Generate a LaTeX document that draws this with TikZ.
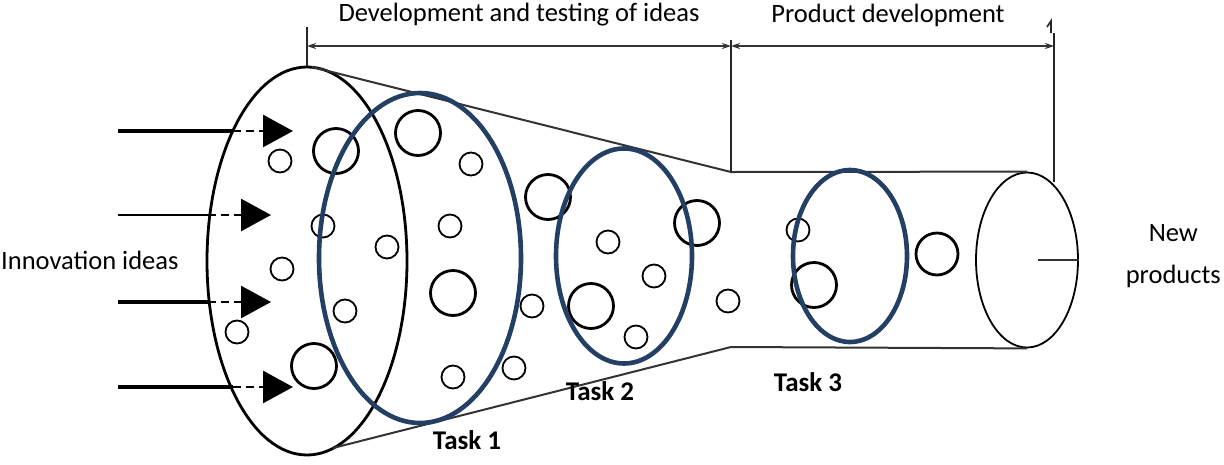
\documentclass[tikz,border=0pt]{standalone}
\usepackage{fontspec}
\setmainfont{Carlito}
\usetikzlibrary{arrows.meta,shapes.geometric}
\definecolor{navy}{HTML}{233F64}
\tikzset{
  lbl/.style={font=\fontsize{26.5}{42}\selectfont, inner sep=0pt},
  tasklbl/.style={font=\fontsize{27}{30}\selectfont\bfseries, inner sep=0pt},
  sc/.style={circle, draw=black, line width=1.8pt, minimum size=23pt, inner sep=0pt},
  bc/.style={circle, draw=black, line width=2.8pt, minimum size=45pt, inner sep=0pt},
  task/.style={ellipse, draw=navy, line width=4.6pt, inner sep=0pt},
  body/.style={ellipse, draw=black, inner sep=0pt},
  funnel/.style={draw=black!80, line width=2pt},
  dim/.style={draw=black!80, line width=1.8pt, {Stealth[length=9pt,width=6pt]}-{Stealth[length=9pt,width=6pt]}},
  feed/.style={line width=3.2pt},
  feedthin/.style={line width=1.5pt},
  dashtip/.style={line width=2.8pt, dash pattern=on 8pt off 5pt, -{Triangle[length=30pt,width=32pt]}},
}
\begin{document}
\begin{tikzpicture}[x=1pt,y=-1pt]
\useasboundingbox (0,0) rectangle (1224,464);
% funnel body
\node[body, line width=2.8pt, minimum width=200pt, minimum height=388pt] (mouth) at (307,261) {};
\node[body, line width=1.8pt, minimum width=102pt, minimum height=175pt] (outlet) at (1027,260) {};
\coordinate (neckT) at (731,172);
\coordinate (neckB) at (731,347);
\coordinate (topL) at (312,67);
\coordinate (botL) at (333,448);
\draw[funnel] (topL) -- (neckT) -- (outlet.north);
\draw[funnel] (botL) -- (neckB) -- (outlet.south);
\coordinate (stubL) at (1038,260);
\draw[black!80, line width=1.8pt] (stubL) -- (outlet.east);
% dimension lines
\coordinate (v1t) at (307,27);
\coordinate (v2t) at (731,40);
\coordinate (v3t) at (1054,33);
\coordinate (v3b) at (1054,182);
\coordinate (d1) at (307,46);
\coordinate (d2) at (731,46);
\coordinate (d3) at (1054,46);
\draw[black!85, line width=1.8pt] (v1t) -- (mouth.north);
\draw[black!85, line width=1.8pt] (v2t) -- (neckT);
\draw[black!85, line width=1.8pt] (v3t) -- (v3b);
\coordinate (hk1) at (1047,27);
\coordinate (hk2) at (1051,21);
\coordinate (hk3) at (1051,33);
\draw[black!85, line width=1.6pt] (hk1) -- (hk2) -- (hk3);
\draw[dim] (d1) -- (d2);
\draw[dim] (d2) -- (d3);
\node[lbl] (devlbl) at (519,15) {Development and testing of ideas};
\node[lbl] (prodlbl) at (888,15) {Product development};
% feed arrows
\coordinate (a1s) at (118,131); \coordinate (a1m) at (233,131); \coordinate (a1e) at (293,131);
\coordinate (a2s) at (118,215); \coordinate (a2m) at (208,215); \coordinate (a2e) at (271,215);
\coordinate (a3s) at (118,302); \coordinate (a3m) at (208,302); \coordinate (a3e) at (271,302);
\coordinate (a4s) at (118,387); \coordinate (a4m) at (233,387); \coordinate (a4e) at (293,387);
\draw[feed] (a1s) -- (a1m);
\draw[feedthin] (a2s) -- (a2m);
\draw[feed] (a3s) -- (a3m);
\draw[feed] (a4s) -- (a4m);
\draw[dashtip] (a1m) -- (a1e);
\draw[dashtip] (a2m) -- (a2e);
\draw[dashtip] (a3m) -- (a3e);
\draw[dashtip] (a4m) -- (a4e);
% ideas (circles)
\node[sc] (c1) at (280,161) {};
\node[bc] (c2) at (336,151) {};
\node[sc] (c3) at (323,226) {};
\node[sc] (c4) at (282,269) {};
\node[sc] (c5) at (387,247) {};
\node[sc] (c6) at (345,311) {};
\node[sc] (c7) at (237,332) {};
\node[bc] (c8) at (314,366) {};
\node[bc] (c9) at (418,133) {};
\node[sc] (c10) at (471,164) {};
\node[sc] (c11) at (450,226) {};
\node[bc] (c12) at (453,293) {};
\node[sc] (c13) at (453,377) {};
\node[sc] (c14) at (514,368) {};
\node[sc] (c15) at (532,306) {};
\node[bc] (c16) at (548,197) {};
\node[sc] (c17) at (608,242) {};
\node[sc] (c18) at (654,276) {};
\node[bc] (c19) at (591,306) {};
\node[sc] (c20) at (636,337) {};
\node[bc] (c21) at (697,223) {};
\node[sc] (c22) at (728,301) {};
\node[sc] (c23) at (798,230) {};
\node[bc] (c24) at (814,285) {};
\node[bc, minimum size=42pt] (c25) at (937,254) {};
% task ellipses
\node[task, minimum width=202pt, minimum height=330pt] (t1) at (420,258) {};
\node[task, minimum width=136pt, minimum height=215pt] (t2) at (624,256) {};
\node[task, minimum width=114pt, minimum height=172pt] (t3) at (850,256) {};
% labels
\node[tasklbl] (t1l) at (467,440) {Task 1};
\node[tasklbl] (t2l) at (600,391) {Task 2};
\node[tasklbl] (t3l) at (808,382) {Task 3};
\node[lbl, anchor=west] (innov) at (1,260) {Innovation ideas};
\node[lbl, align=center, anchor=east] (newp) at (1221,256) {New\\products};
\end{tikzpicture}
\end{document}
